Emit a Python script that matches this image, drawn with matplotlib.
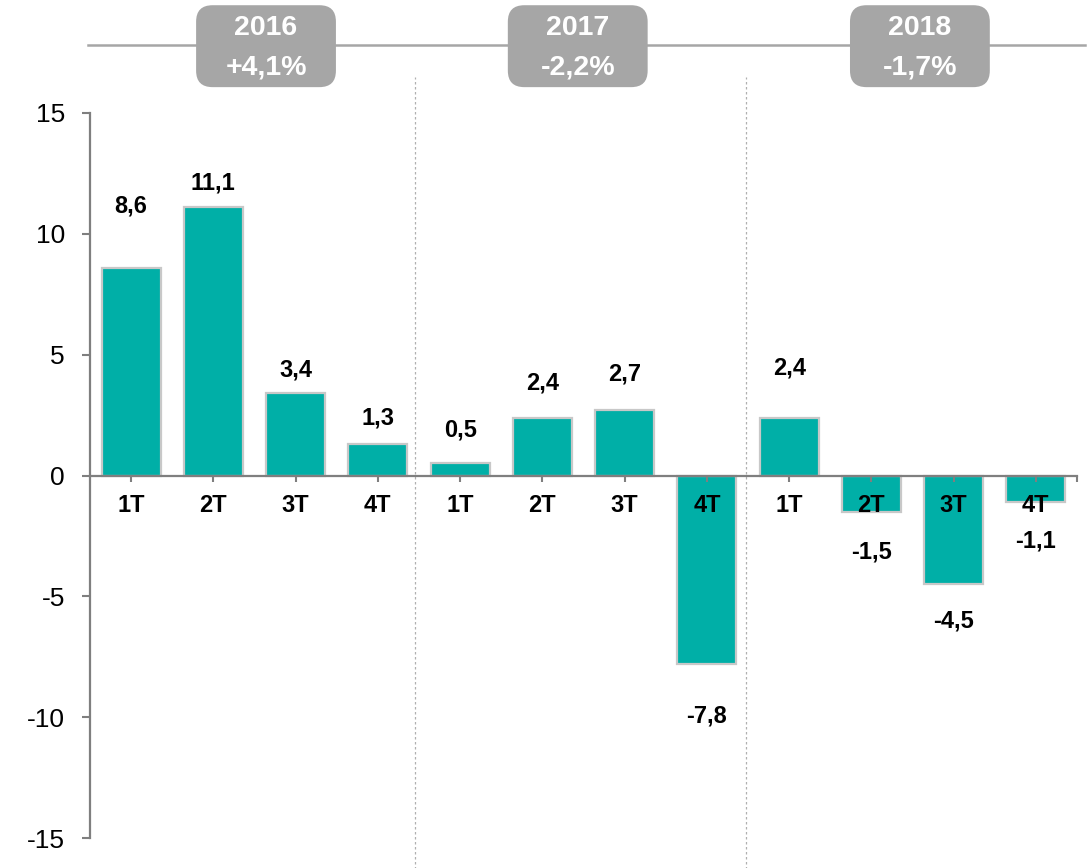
import numpy as np
import matplotlib
matplotlib.use("Agg")
import matplotlib.pyplot as plt
from matplotlib.patches import FancyBboxPatch

plt.rcParams['font.family'] = ['Liberation Sans', 'DejaVu Sans']

# datos trimestrales (variacion %)
trimestres = ['1T', '2T', '3T', '4T', '1T', '2T', '3T', '4T', '1T', '2T', '3T', '4T']
valores = [8.6, 11.1, 3.4, 1.3, 0.5, 2.4, 2.7, -7.8, 2.4, -1.5, -4.5, -1.1]
etiquetas = ['8,6', '11,1', '3,4', '1,3', '0,5', '2,4', '2,7', '-7,8', '2,4', '-1,5', '-4,5', '-1,1']
# altura de cada etiqueta (en unidades del eje)
etiq_y = [11.17, 12.12, 4.38, 2.36, 1.90, 3.83, 4.20, -9.96, 4.45, -3.18, -6.02, -2.71]
anios = ['2016', '2017', '2018']
anios_var = ['+4,1%', '-2,2%', '-1,7%']
anios_x = [1.64, 5.43, 9.59]

verde = '#00AFA7'
gris = '#A6A6A6'

fig = plt.figure(figsize=(10.91, 8.68), dpi=100)
ax = fig.add_axes([90 / 1091, 1 - 838 / 868, 987 / 1091, 725 / 868])
ax.set_axisbelow(False)

x = np.arange(len(valores))
ax.bar(x, valores, width=0.72, color=verde, edgecolor='#C8C8C8', linewidth=1.6, zorder=2)

ax.set_xlim(-0.5, 11.5)
ax.set_ylim(-15, 15)
ax.set_yticks([-15, -10, -5, 0, 5, 10, 15])
ax.set_yticklabels(['-15', '-10', '-5', '0', '5', '10', '15'], fontsize=19)

ax.spines['top'].set_visible(False)
ax.spines['right'].set_visible(False)
ax.spines['bottom'].set_position(('data', 0))
for s in ['left', 'bottom']:
    ax.spines[s].set_color('#7F7F7F')
    ax.spines[s].set_linewidth(1.6)
    ax.spines[s].set_zorder(3)

ax.set_xticks(x)
ax.set_xticklabels(trimestres, fontsize=17, fontweight='bold')
ax.set_xticks([11.5], minor=True)
ax.tick_params(axis='x', which='both', direction='out', length=4, width=1.5, color='#7F7F7F', pad=9)
ax.tick_params(axis='y', direction='out', length=6, width=1.5, color='#7F7F7F', pad=12)

for xi, t, yy in zip(x, etiquetas, etiq_y):
    ax.text(xi, yy, t, ha='center', va='center', fontsize=17, fontweight='bold', zorder=5)

# separadores de anios
for xs in [3.45, 7.48]:
    ax.plot([xs, xs], [-16.3, 16.5], ls=(0, (2, 2)), color='#B0B0B0', lw=0.9, clip_on=False, zorder=1)

# linea superior
ax.plot([-0.52, 11.6], [17.8, 17.8], color=gris, lw=1.8, clip_on=False, zorder=1)

# cajas con anios
for xc, a, v in zip(anios_x, anios, anios_var):
    caja = FancyBboxPatch((xc - 0.85, 16.07), 1.70, 3.39,
                          boxstyle='round,pad=0,rounding_size=0.2',
                          mutation_aspect=3.4, facecolor=gris, edgecolor='none',
                          clip_on=False, zorder=4)
    ax.add_patch(caja)
    ax.text(xc, 18.5, a, ha='center', va='center', color='white',
            fontsize=20.5, fontweight='bold', zorder=5, clip_on=False)
    ax.text(xc, 16.9, v, ha='center', va='center', color='white',
            fontsize=20.5, fontweight='bold', zorder=5, clip_on=False)

fig.savefig('out.png', dpi=100)
